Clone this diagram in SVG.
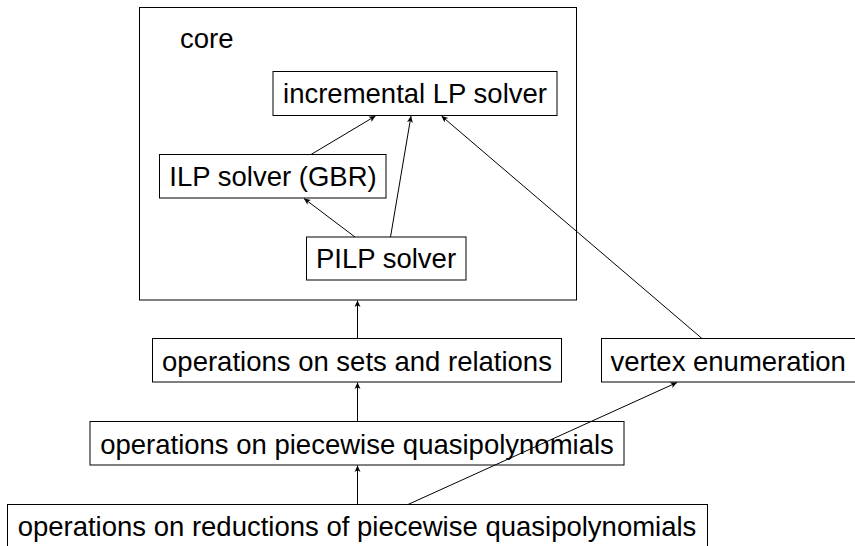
<svg xmlns="http://www.w3.org/2000/svg" width="855" height="546" viewBox="0 0 855 546">
<style>
.box{fill:#fff;stroke:#000;stroke-width:1}
.lbl{font-family:"Liberation Sans",Arial,sans-serif;font-size:27.5px;fill:#000}
.c{text-anchor:middle}
.edge{stroke:#000;stroke-width:1;fill:none;marker-end:url(#ah)}
</style>
<defs>
<marker id="ah" viewBox="-7 -4 8 8" refX="0" refY="0" markerWidth="8" markerHeight="8" markerUnits="userSpaceOnUse" orient="auto">
<path d="M0,0 L-6.5,-3 L-4.8,0 L-6.5,3 Z" fill="#000"/>
</marker>
</defs>
<rect width="855" height="546" fill="#fff"/>
<g id="core">
<rect class="box" x="139.5" y="7.5" width="437" height="292.5"/>
<text class="lbl" x="180" y="48">core</text>
</g>
<g id="incremental-lp">
<rect class="box" x="273" y="71.5" width="284" height="44"/>
<text class="lbl c" x="415" y="103">incremental LP solver</text>
</g>
<g id="ilp">
<rect class="box" x="159.5" y="154.5" width="226.5" height="43.5"/>
<text class="lbl c" x="273" y="186">ILP solver (GBR)</text>
</g>
<g id="pilp">
<rect class="box" x="306.5" y="237" width="159.5" height="43"/>
<text class="lbl c" x="386" y="268">PILP solver</text>
</g>
<g id="sets">
<rect class="box" x="152.5" y="338.5" width="409" height="43.5"/>
<text class="lbl c" x="357" y="370.5">operations on sets and relations</text>
</g>
<g id="vertex">
<rect class="box" x="601.5" y="338.5" width="255" height="43.5"/>
<text class="lbl" x="610.5" y="370.5">vertex enumeration</text>
</g>
<g id="pq">
<rect class="box" x="90" y="421.5" width="534" height="43.5"/>
<text class="lbl c" x="357" y="453.5">operations on piecewise quasipolynomials</text>
</g>
<g id="reductions">
<rect class="box" x="7.5" y="504.5" width="700" height="50"/>
<text class="lbl c" x="357" y="536">operations on reductions of piecewise quasipolynomials</text>
</g>
<g id="connectors">
<line class="edge" x1="311" y1="154.5" x2="375.5" y2="116"/>
<line class="edge" x1="355" y1="237" x2="304" y2="198.5"/>
<line class="edge" x1="390.5" y1="237" x2="411" y2="116"/>
<line class="edge" x1="702" y1="338.5" x2="441.5" y2="116"/>
<line class="edge" x1="357.5" y1="338.5" x2="357.5" y2="300.5"/>
<line class="edge" x1="357.5" y1="421.5" x2="357.5" y2="382.5"/>
<line class="edge" x1="357.5" y1="504.5" x2="357.5" y2="465.5"/>
<line class="edge" x1="408" y1="504.5" x2="677" y2="382.5"/>
</g>
</svg>
